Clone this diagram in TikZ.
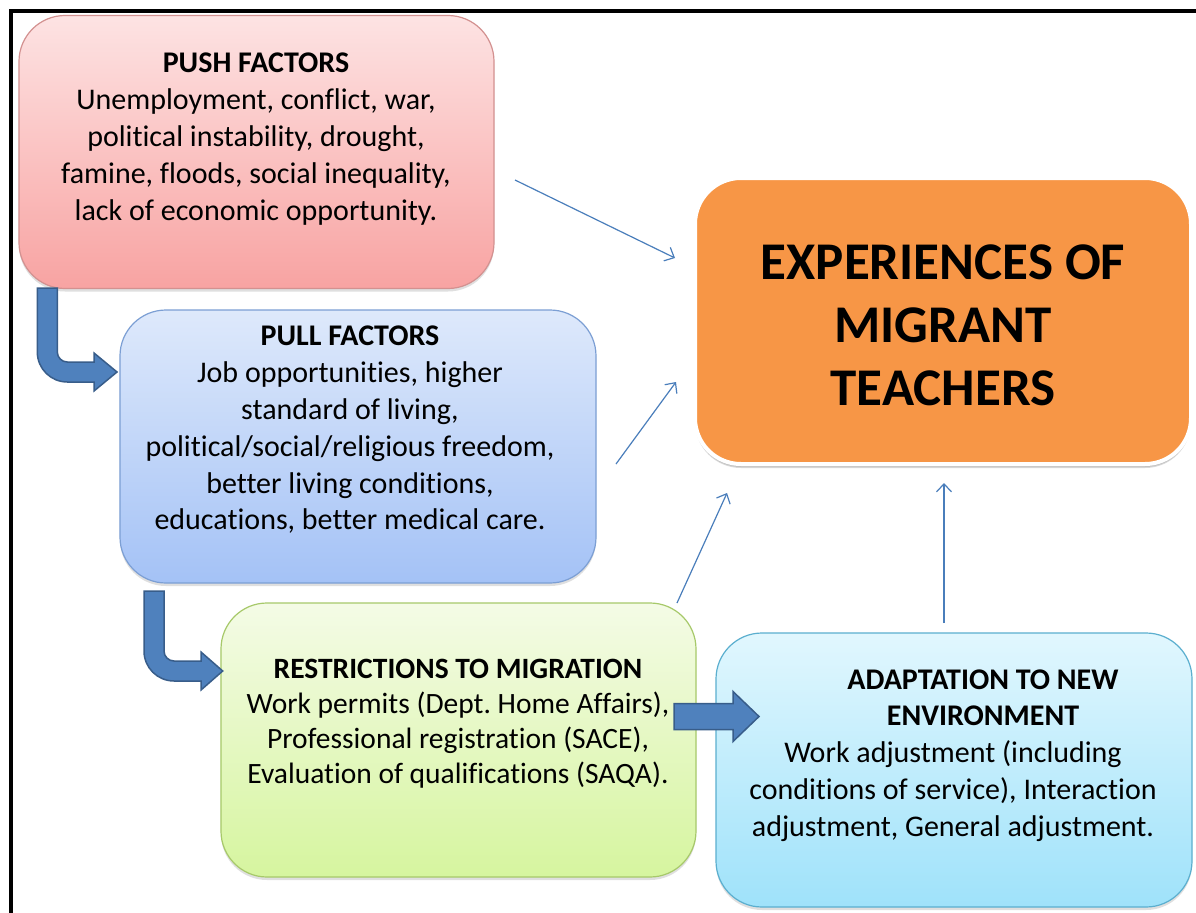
\documentclass[tikz,border=0pt]{standalone}
\usepackage{fontspec}
\setmainfont{Carlito}[Ligatures={NoCommon}]
\usetikzlibrary{arrows.meta,shadows}
\frenchspacing
\definecolor{pushtop}{HTML}{FDE3E3}
\definecolor{pushbot}{HTML}{F8A3A2}
\definecolor{pushdraw}{HTML}{D39190}
\definecolor{pulltop}{HTML}{DEE9FB}
\definecolor{pullbot}{HTML}{A4C2F6}
\definecolor{pulldraw}{HTML}{7C9FD4}
\definecolor{restop}{HTML}{F4FBE6}
\definecolor{resbot}{HTML}{D6F59F}
\definecolor{resdraw}{HTML}{A7C96A}
\definecolor{adatop}{HTML}{E1F7FE}
\definecolor{adabot}{HTML}{9FE2FA}
\definecolor{adadraw}{HTML}{5BAFCF}
\definecolor{expfill}{HTML}{F79646}
\definecolor{connblue}{HTML}{4A7EBB}
\definecolor{blockfill}{HTML}{4F81BD}
\definecolor{blockdraw}{HTML}{385D8A}
\begin{document}
\frenchspacing
\begin{tikzpicture}[x=1bp,y=-1bp,
  box/.style={rectangle, rounded corners=46bp, line width=1.2bp, inner sep=0pt,
    drop shadow={opacity=0.25, shadow xshift=0bp, shadow yshift=-3bp}},
  txt/.style={inner sep=0pt, align=center, font=\fontsize{30bp}{36.8bp}\selectfont\frenchspacing},
  conn/.style={draw=connblue, line width=1.2bp, -{Straight Barb[length=8bp,width=15bp,line width=1.2bp]}},
  blockarrow/.style={fill=blockfill, draw=blockdraw, line width=1.5bp, line join=miter}
]
\useasboundingbox (0,0) rectangle (1196,913);
\fill[white] (0,0) rectangle (1196,913);
% frame
\draw[line width=4bp] (10.8,913) -- (10.8,11) -- (1196,11);

% boxes
\node[box, top color=pushtop, bottom color=pushbot, draw=pushdraw,
  minimum width=475bp, minimum height=273bp] (push) at (256.5,152) {};
\node[box, top color=pulltop, bottom color=pullbot, draw=pulldraw,
  minimum width=476bp, minimum height=273bp] (pull) at (358,446.5) {};
\node[box, top color=restop, bottom color=resbot, draw=resdraw,
  minimum width=475bp, minimum height=274bp] (restr) at (458.5,740) {};
\node[box, top color=adatop, bottom color=adabot, draw=adadraw,
  minimum width=476bp, minimum height=274bp] (adapt) at (954,770) {};
\node[box, fill=expfill, draw=white, line width=4bp,
  drop shadow={opacity=0.3, shadow xshift=0bp, shadow yshift=-4bp},
  minimum width=496bp, minimum height=286bp] (exp) at (943,321) {};

% texts
\node[txt] (pusht) at (256,139) {\textbf{PUSH FACTORS}\\Unemployment, conflict, war,\\political instability, drought,\\famine, floods, social inequality,\\lack of economic opportunity.};
\node[txt] (pullt) at (350,430) {\textbf{PULL FACTORS}\\Job opportunities, higher\\standard of living,\\political/social/religious freedom,\\better living conditions,\\educations, better medical care.};
\node[txt, font=\fontsize{29.5bp}{35bp}\selectfont\frenchspacing] (restrt) at (458,724) {\textbf{RESTRICTIONS TO MIGRATION}\\Work permits (Dept. Home Affairs),\\Professional registration (SACE),\\Evaluation of qualifications (SAQA).};
\node[txt] (adaptt) at (953,755.5) {\hspace*{60bp}\textbf{ADAPTATION TO NEW}\\\hspace*{60bp}\textbf{ENVIRONMENT}\\Work adjustment (including\\conditions of service), Interaction\\adjustment, General adjustment.};
\node[txt, font=\fontsize{53bp}{63bp}\selectfont\bfseries] (expt) at (943,325) {EXPERIENCES OF\\MIGRANT\\TEACHERS};

% thin connectors
\coordinate (c1s) at (515,180); \coordinate (c1e) at (675,258);
\coordinate (c2s) at (616,464); \coordinate (c2e) at (676,382);
\coordinate (c3s) at (677,603); \coordinate (c3e) at (727,493);
\coordinate (c4s) at (944,623); \coordinate (c4e) at (944,483);
\draw[conn] (c1s) -- (c1e);
\draw[conn] (c2s) -- (c2e);
\draw[conn] (c3s) -- (c3e);
\draw[conn] (c4s) -- (c4e);

% block arrows
\draw[blockarrow] (37.3,288) -- (57.3,288) -- (57.3,352)
  .. controls (57.3,357.5) and (61.8,362) .. (67.3,362) -- (94,362) -- (94,353)
  -- (117,372) -- (94,391) -- (94,382) -- (67.3,382)
  .. controls (50.7,382) and (37.3,368.6) .. (37.3,352) -- cycle;
\draw[blockarrow] (144,591) -- (164,591) -- (164,651)
  .. controls (164,656.5) and (168.5,661) .. (174,661) -- (201,661) -- (201,652)
  -- (222.7,671) -- (201,690) -- (201,681) -- (174,681)
  .. controls (157.4,681) and (144,667.6) .. (144,651) -- cycle;
\draw[blockarrow] (674,703.5) -- (733,703.5) -- (733,691.5) -- (759,716.5)
  -- (733,741.5) -- (733,729.5) -- (674,729.5) -- cycle;
\end{tikzpicture}
\end{document}
